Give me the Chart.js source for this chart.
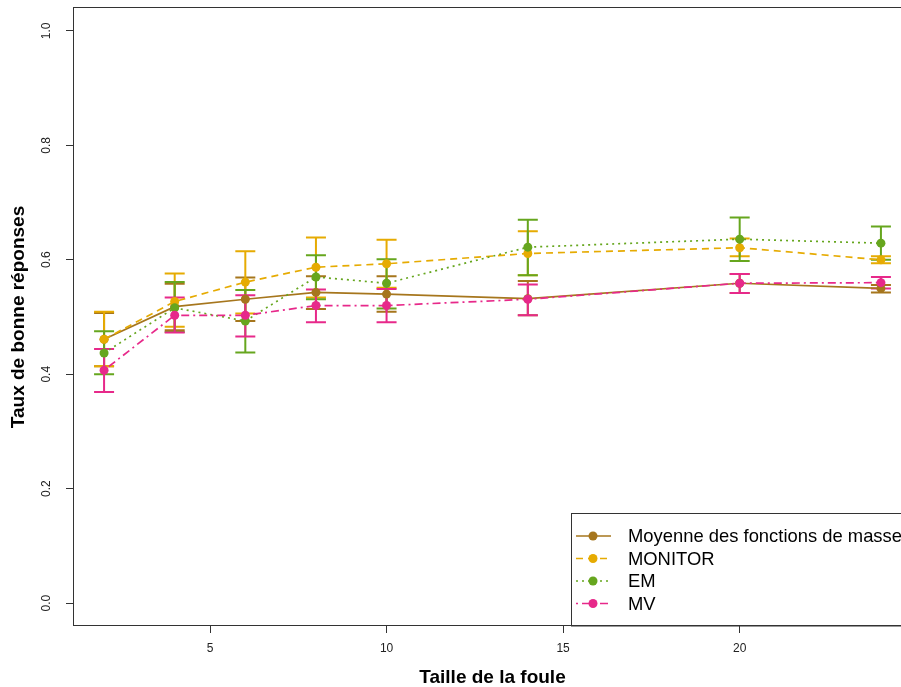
<!DOCTYPE html>
<html>
<head>
<meta charset="utf-8">
<script src="https://cdn.jsdelivr.net/npm/chart.js@4/dist/chart.umd.min.js"></script>
<style>
  html, body { margin: 0; padding: 0; background: #ffffff; overflow: hidden; width: 901px; height: 687px; }
  #wrap { position: absolute; left: 0; top: 0; width: 920px; height: 687px; }
</style>
</head>
<body>
<div id="wrap"><canvas id="c" width="920" height="687"></canvas></div>
<script>
// ---- data ----
const crowdSizes = [2, 4, 6, 8, 10, 14, 20, 24];

const seriesNames = ["Moyenne des fonctions de masse", "MONITOR", "EM", "MV"];

const moyenne   = [0.461, 0.518, 0.531, 0.543, 0.540, 0.532, 0.559, 0.550];
const moyenneLo = [0.414, 0.477, 0.493, 0.514, 0.509, 0.503, 0.542, 0.543];
const moyenneHi = [0.507, 0.558, 0.569, 0.571, 0.571, 0.563, 0.575, 0.556];

const monitor   = [0.461, 0.527, 0.561, 0.587, 0.593, 0.611, 0.621, 0.600];
const monitorLo = [0.414, 0.483, 0.506, 0.534, 0.551, 0.573, 0.606, 0.594];
const monitorHi = [0.509, 0.576, 0.615, 0.639, 0.635, 0.650, 0.637, 0.606];

const em   = [0.437, 0.516, 0.493, 0.570, 0.559, 0.622, 0.636, 0.629];
const emLo = [0.400, 0.474, 0.438, 0.531, 0.515, 0.573, 0.598, 0.600];
const emHi = [0.475, 0.561, 0.547, 0.608, 0.601, 0.670, 0.674, 0.658];

const mv   = [0.407, 0.503, 0.503, 0.520, 0.520, 0.531, 0.559, 0.560];
const mvLo = [0.369, 0.473, 0.466, 0.491, 0.491, 0.503, 0.542, 0.550];
const mvHi = [0.444, 0.534, 0.538, 0.548, 0.549, 0.557, 0.575, 0.570];

const xTicks = [5, 10, 15, 20];
const yTicks = [0.0, 0.2, 0.4, 0.6, 0.8, 1.0];
const yTickLabels = ["0.0", "0.2", "0.4", "0.6", "0.8", "1.0"];

const xTitle = "Taille de la foule";
const yTitle = "Taux de bonne réponses";

// ---- styles ----
const colors = ["#A6761D", "#E6AB02", "#66A61E", "#E7298A"];
const dashes = [[], [7, 5], [2, 4], [2, 4, 8, 4]];

function pts(vals) { return crowdSizes.map((x, i) => ({ x: x, y: vals[i] })); }

const values = [moyenne, monitor, em, mv];
const lows = [moyenneLo, monitorLo, emLo, mvLo];
const highs = [moyenneHi, monitorHi, emHi, mvHi];

const datasets = values.map((v, i) => ({
  label: seriesNames[i],
  data: pts(v),
  errLo: lows[i],
  errHi: highs[i],
  borderColor: colors[i],
  backgroundColor: colors[i],
  pointBackgroundColor: colors[i],
  pointBorderWidth: 0,
  pointRadius: 4.5,
  borderWidth: 1.7,
  borderDash: dashes[i],
  tension: 0,
  fill: false,
  order: 4 - i
}));

const FONT = "'Liberation Sans', Arial, Helvetica, sans-serif";

const bgPlugin = {
  id: 'bg',
  beforeDraw(chart) {
    const ctx = chart.ctx;
    ctx.save();
    ctx.fillStyle = '#ffffff';
    ctx.fillRect(0, 0, chart.width, chart.height);
    ctx.restore();
  }
};

const errorBars = {
  id: 'errorBars',
  beforeDatasetsDraw(chart) {
    const ctx = chart.ctx;
    const xs = chart.scales.x, ys = chart.scales.y;
    const n = chart.data.datasets.length;
    for (let d = 0; d < n; d++) {
      const ds = chart.data.datasets[d];
      ctx.save();
      ctx.strokeStyle = ds.borderColor;
      ctx.lineWidth = 2;
      ctx.setLineDash([]);
      ds.data.forEach((p, i) => {
        const px = xs.getPixelForValue(p.x);
        const lo = ys.getPixelForValue(ds.errLo[i]);
        const hi = ys.getPixelForValue(ds.errHi[i]);
        ctx.beginPath();
        ctx.moveTo(px, lo); ctx.lineTo(px, hi);
        ctx.moveTo(px - 10, lo); ctx.lineTo(px + 10, lo);
        ctx.moveTo(px - 10, hi); ctx.lineTo(px + 10, hi);
        ctx.stroke();
      });
      ctx.restore();
    }
  }
};

const framePlugin = {
  id: 'frame',
  afterDraw(chart) {
    const ctx = chart.ctx;
    const a = chart.chartArea;
    const ys = chart.scales.y;
    ctx.save();
    // y tick labels, rotated like R
    ctx.fillStyle = '#222';
    ctx.font = '12px ' + FONT;
    ctx.textAlign = 'center';
    ctx.textBaseline = 'middle';
    yTicks.forEach((v, i) => {
      const py = ys.getPixelForValue(v);
      ctx.save();
      ctx.translate(47, py);
      ctx.rotate(-Math.PI / 2);
      ctx.fillText(yTickLabels[i], 0, 0);
      ctx.restore();
    });

    // legend box
    const lx = 571.5, ly = 513.5;
    ctx.fillStyle = '#ffffff';
    ctx.fillRect(lx, ly, chart.width - lx, a.bottom - ly);
    ctx.strokeStyle = '#333';
    ctx.lineWidth = 1;
    ctx.strokeRect(lx, ly, chart.width - lx + 5, a.bottom - ly);
    const rowY = [536, 558.5, 581, 603.5];
    ctx.font = '18.4px ' + FONT;
    ctx.textAlign = 'left';
    ctx.textBaseline = 'middle';
    chart.data.datasets.forEach((ds, i) => {
      const y = rowY[i];
      ctx.strokeStyle = ds.borderColor;
      ctx.lineWidth = 1.7;
      ctx.setLineDash(ds.borderDash);
      ctx.beginPath();
      ctx.moveTo(576, y); ctx.lineTo(611, y);
      ctx.stroke();
      ctx.setLineDash([]);
      ctx.fillStyle = ds.borderColor;
      ctx.beginPath();
      ctx.arc(593, y, 4.5, 0, Math.PI * 2);
      ctx.fill();
      ctx.fillStyle = '#000';
      ctx.fillText(ds.label, 628, y + 1);
    });

    // plot frame
    ctx.strokeStyle = '#333';
    ctx.lineWidth = 1;
    ctx.strokeRect(Math.round(a.left) + 0.5, Math.round(a.top) - 0.5, a.right - a.left, a.bottom - a.top);
    ctx.restore();
  }
};

new Chart(document.getElementById('c'), {
  type: 'line',
  data: { datasets: datasets },
  options: {
    responsive: false,
    animation: false,
    devicePixelRatio: 1,
    layout: { padding: { top: 8, right: 8, left: 0, bottom: 0 } },
    plugins: {
      legend: { display: false },
      tooltip: { enabled: false }
    },
    scales: {
      x: {
        type: 'linear',
        min: 1.12,
        max: 24.88,
        afterBuildTicks(scale) { scale.ticks = xTicks.map(v => ({ value: v })); },
        afterFit(scale) { scale.height = 61; },
        border: { display: false },
        grid: { drawOnChartArea: false, drawTicks: true, tickLength: 7, color: '#333', tickColor: '#333' },
        ticks: { font: { size: 12, family: FONT }, color: '#222', padding: 8, maxRotation: 0 },
        title: { display: true, text: xTitle, font: { size: 19, weight: 'bold', family: FONT }, color: '#000', padding: { top: 0, bottom: -2 } }
      },
      y: {
        type: 'linear',
        min: -0.04,
        max: 1.04,
        afterBuildTicks(scale) { scale.ticks = yTicks.map(v => ({ value: v })); },
        afterFit(scale) { scale.width = 73; },
        border: { display: false },
        grid: { drawOnChartArea: false, drawTicks: true, tickLength: 7, color: '#333', tickColor: '#333' },
        ticks: { display: false },
        title: { display: true, text: yTitle, font: { size: 19, weight: 'bold', family: FONT }, color: '#000', padding: { top: 7, bottom: 0 } }
      }
    }
  },
  plugins: [bgPlugin, errorBars, framePlugin]
});
</script>
</body>
</html>
